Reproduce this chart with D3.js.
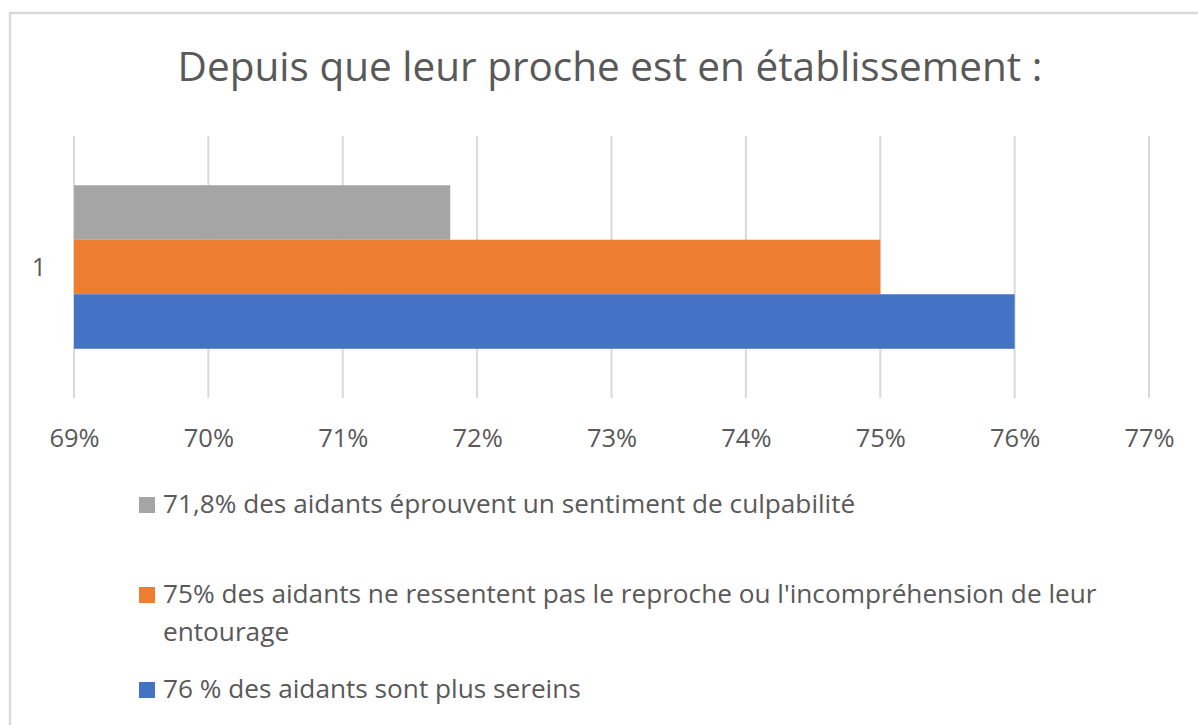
<!DOCTYPE html>
<html>
<head>
<meta charset="utf-8">
<script src="https://cdn.jsdelivr.net/npm/d3@7"></script>
<style>
  html, body { margin: 0; padding: 0; background: #fff; }
  svg { display: block; font-family: "Open Sans", "Noto Sans", sans-serif; }
</style>
</head>
<body>
<svg id="chart" width="1198" height="725"></svg>
<script>
const title = "Depuis que leur proche est en établissement :";
const categories = ["1"];
const seriesNames = [
  "71,8% des aidants éprouvent un sentiment de culpabilité",
  "75% des aidants ne ressentent pas le reproche ou l'incompréhension de leur entourage",
  "76 % des aidants sont plus sereins"
];
const seriesValues = [0.718, 0.75, 0.76];
const seriesColors = ["#A5A5A5", "#ED7D31", "#4472C4"];
const tickValues = [0.69, 0.70, 0.71, 0.72, 0.73, 0.74, 0.75, 0.76, 0.77];

const svg = d3.select("#chart");
const textColor = "#595959";
const gridColor = "#D9D9D9";

// chart frame (extends past the visible area on right & bottom)
svg.append("rect")
  .attr("x", 10).attr("y", 13)
  .attr("width", 1260).attr("height", 760)
  .attr("fill", "#fff")
  .attr("stroke", gridColor).attr("stroke-width", 2.5);

// title
svg.append("text")
  .attr("x", 610).attr("y", 81)
  .attr("text-anchor", "middle")
  .attr("fill", textColor)
  .attr("font-size", 40.5)
  .text(title);

const plotTop = 136, plotBottom = 398;
const x = d3.scaleLinear().domain([0.69, 0.77]).range([74, 1149]);
const y0 = d3.scaleBand().domain(categories).range([plotTop, plotBottom])
  .paddingInner(0).paddingOuter(0.301);
const y1 = d3.scaleBand().domain(d3.range(seriesNames.length))
  .range([0, y0.bandwidth()]).padding(0);

// gridlines
svg.append("g").selectAll("line")
  .data(tickValues).join("line")
  .attr("x1", d => x(d)).attr("x2", d => x(d))
  .attr("y1", plotTop).attr("y2", plotBottom)
  .attr("stroke", gridColor).attr("stroke-width", 2);

// bars
const rows = [];
categories.forEach(c => seriesValues.forEach((v, i) => rows.push({c, i, v})));
svg.append("g").selectAll("rect")
  .data(rows).join("rect")
  .attr("x", x(0.69))
  .attr("y", d => y0(d.c) + y1(d.i))
  .attr("width", d => x(d.v) - x(0.69))
  .attr("height", y1.bandwidth())
  .attr("fill", d => seriesColors[d.i]);

// x axis labels
const fmt = d3.format(".0%");
const xAxis = d3.axisBottom(x).tickValues(tickValues).tickFormat(fmt).tickSize(0).tickPadding(0);
const gx = svg.append("g").attr("transform", `translate(0, ${plotBottom})`).call(xAxis);
gx.select(".domain").remove();
gx.selectAll("text")
  .attr("fill", textColor)
  .attr("font-size", 25.5)
  .attr("font-family", "Open Sans")
  .attr("dy", null)
  .attr("y", 49);

// y axis label
const yAxis = d3.axisLeft(y0).tickSize(0).tickPadding(0);
const gy = svg.append("g").attr("transform", "translate(46,0)").call(yAxis);
gy.select(".domain").remove();
gy.selectAll("text")
  .attr("fill", textColor)
  .attr("font-size", 25)
  .attr("font-family", "Open Sans")
  .attr("dy", "0.36em");

// legend
const legendX = 139, textX = 163, lineH = 38;
const legendBaselines = [513, 603, 698];
const maxW = 1000;
const leg = svg.append("g");
seriesNames.forEach((name, i) => {
  const g = leg.append("g");
  g.append("rect")
    .attr("x", legendX).attr("y", legendBaselines[i] - 16)
    .attr("width", 16).attr("height", 16)
    .attr("fill", seriesColors[i]);
  const t = g.append("text")
    .attr("x", textX).attr("y", legendBaselines[i])
    .attr("fill", textColor).attr("font-size", 26.2);
  // word wrap
  const words = name.split(" ");
  let line = [], tspan = t.append("tspan").attr("x", textX).attr("dy", 0);
  words.forEach(w => {
    line.push(w);
    tspan.text(line.join(" "));
    if (tspan.node().getComputedTextLength() > maxW && line.length > 1) {
      line.pop();
      tspan.text(line.join(" "));
      line = [w];
      tspan = t.append("tspan").attr("x", textX).attr("dy", lineH).text(w);
    }
  });
});
</script>
</body>
</html>
